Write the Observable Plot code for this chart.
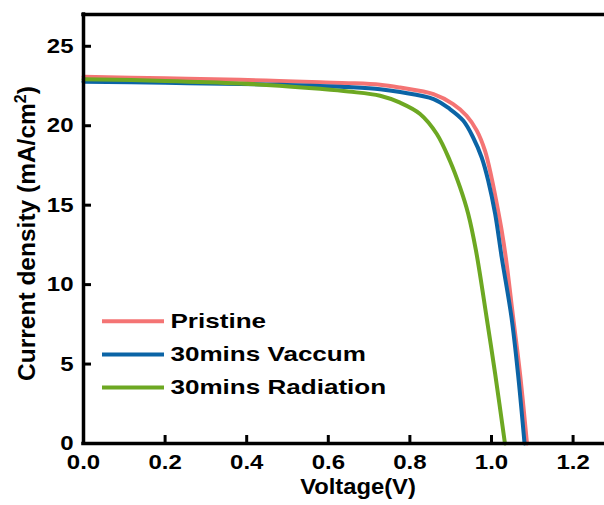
<!DOCTYPE html>
<html><head><meta charset="utf-8">
<script src="https://cdn.jsdelivr.net/npm/d3@7"></script>
<script src="https://cdn.jsdelivr.net/npm/@observablehq/plot@0.6"></script>
<style>
body{margin:0;background:#fff;}
#chart{width:604px;height:505px;}
</style></head><body><div id="chart"></div>
<script>
const seriesNames = ["Pristine", "30mins Vaccum", "30mins Radiation"];
const seriesColors = ["#F47474", "#0B64A6", "#6DA822"];

const pristineV = [0, 0.2, 0.384, 0.48, 0.58, 0.65, 0.727, 0.776, 0.858, 0.906, 0.939, 0.964, 0.984, 1.000, 1.013, 1.025, 1.035, 1.053, 1.070, 1.087];
const pristineJ = [23.08, 22.98, 22.89, 22.82, 22.73, 22.68, 22.58, 22.40, 21.99, 21.36, 20.63, 19.69, 18.43, 16.75, 15.08, 13.40, 11.72, 7.94, 4.38, 0];

const vaccumV = [0, 0.2, 0.384, 0.48, 0.58, 0.65, 0.727, 0.776, 0.858, 0.898, 0.931, 0.955, 0.976, 0.992, 1.009, 1.025, 1.049, 1.065, 1.081];
const vaccumJ = [22.77, 22.70, 22.62, 22.58, 22.50, 22.43, 22.30, 22.12, 21.68, 21.05, 20.31, 19.26, 18.0, 16.54, 14.45, 11.72, 7.94, 4.38, 0];

const radiationV = [0, 0.2, 0.384, 0.48, 0.58, 0.65, 0.727, 0.776, 0.825, 0.866, 0.898, 0.923, 0.943, 0.962, 0.988, 1.009, 1.033];
const radiationJ = [22.93, 22.82, 22.66, 22.52, 22.32, 22.15, 21.89, 21.45, 20.74, 19.48, 17.80, 16.12, 14.45, 12.14, 7.94, 4.38, 0];

const xTicks = [0, 0.2, 0.4, 0.6, 0.8, 1.0, 1.2];
const yTicks = [0, 5, 10, 15, 20, 25];
const xDomain = [0, 1.277];
const yDomain = [0, 27];
const xTitle = "Voltage(V)";
const yTitleMain = "Current density (mA/cm";
const yTitleSup = "2";
const yTitleEnd = ")";

const fmtX = d3.format(".1f");
const fmtY = d3.format("d");

const seriesV = [pristineV, vaccumV, radiationV];
const seriesJ = [pristineJ, vaccumJ, radiationJ];
const data = seriesNames.flatMap((name, k) =>
  seriesV[k].map((v, i) => ({series: name, v, j: seriesJ[k][i]})));

const legendMarks = seriesNames.flatMap((name, i) => [
  Plot.ruleY([name], {frameAnchor: "top-left", x1: 0, x2: 0, y: () => yDomain[1], insetLeft: 19, insetRight: -81,
    dy: 306.7 + 33.2 * i, stroke: seriesColors[i], strokeWidth: 4}),
  Plot.text([name], {frameAnchor: "top-left", dx: 87, dy: 306.7 + 33.2 * i, textAnchor: "start", lineAnchor: "middle",
    fontSize: 21, fontWeight: "bold"})
]);

const yTitleFull = yTitleMain + yTitleSup + yTitleEnd;

const plot = Plot.plot({
  width: 604, height: 505,
  marginLeft: 83, marginRight: 0, marginTop: 14, marginBottom: 62,
  x: {domain: xDomain, axis: null},
  y: {domain: yDomain, axis: null},
  color: {domain: seriesNames, range: seriesColors},
  style: {fontFamily: "'Liberation Sans', Arial, sans-serif", fontWeight: "bold", color: "#000", background: "#fff"},
  marks: [
    Plot.line(data, {x: "v", y: "j", z: "series", stroke: "series", strokeWidth: 4, curve: "catmull-rom"}),
    ...legendMarks,
    Plot.ruleX([0], {strokeWidth: 3.5, strokeLinecap: "square"}),
    Plot.ruleY([yDomain[0]], {strokeWidth: 3.5, strokeLinecap: "square"}),
    Plot.ruleY([yDomain[1]], {strokeWidth: 3.5, strokeLinecap: "square"}),
    Plot.ruleX(xTicks, {x: d => d, y1: 0, y2: 0, insetTop: -8, strokeWidth: 3}),
    Plot.ruleY(yTicks, {y: d => d, x1: 0, x2: 0, insetRight: -8, strokeWidth: 3}),
    Plot.text(xTicks, {x: d => d, frameAnchor: "bottom", dy: 11, lineAnchor: "top", text: fmtX,
      fontSize: 20.5, fontWeight: "bold"}),
    Plot.text(yTicks, {y: d => d, frameAnchor: "left", dx: -10, textAnchor: "end", lineAnchor: "middle", text: fmtY,
      fontSize: 20.5, fontWeight: "bold"}),
    Plot.text([xTitle], {frameAnchor: "bottom", dx: 14, dy: 50, lineAnchor: "bottom", fontSize: 22, fontWeight: "bold"}),
    Plot.text([yTitleFull], {frameAnchor: "left", rotate: -90, dx: -49, dy: 4.5, textAnchor: "middle", lineAnchor: "bottom", fontSize: 24.5, fontWeight: "bold"})
  ]
});

document.getElementById("chart").appendChild(plot);

// horizontal stretch factors matching the reference's wide glyphs
const stretchBy = new Map();
xTicks.forEach(d => stretchBy.set(fmtX(d), 1.17));
yTicks.forEach(d => stretchBy.set(fmtY(d), 1.17));
seriesNames.forEach(n => stretchBy.set(n, 1.24));
stretchBy.set(xTitle, 1.08);

plot.querySelectorAll("text").forEach(t => {
  const content = t.textContent.trim();
  if (content === yTitleFull) {
    // render the "2" as a superscript
    while (t.firstChild) t.removeChild(t.firstChild);
    const ns = "http://www.w3.org/2000/svg";
    const a = document.createElementNS(ns, "tspan"); a.textContent = yTitleMain;
    const s = document.createElementNS(ns, "tspan"); s.textContent = yTitleSup;
    s.setAttribute("font-size", "16"); s.setAttribute("dy", "-9");
    const e = document.createElementNS(ns, "tspan"); e.textContent = yTitleEnd; e.setAttribute("dy", "9");
    t.append(a, s, e);
    return;
  }
  const sx = stretchBy.get(content);
  if (!sx) return;
  let len = 0;
  try { len = t.getComputedTextLength(); } catch (err) { len = 0; }
  if (!(len > 0)) { try { len = t.getBBox().width; } catch (err) { len = 0; } }
  if (len > 0) {
    t.setAttribute("textLength", (len * sx).toFixed(2));
    t.setAttribute("lengthAdjust", "spacingAndGlyphs");
  }
});
</script>
</body></html>
